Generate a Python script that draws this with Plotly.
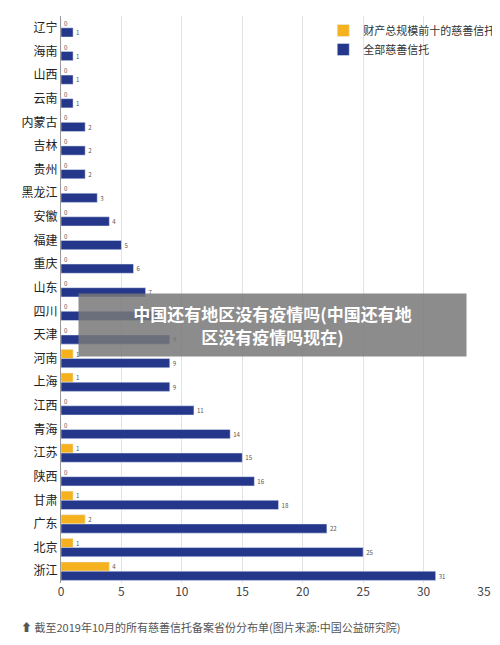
import plotly.graph_objects as go

provinces = ["辽宁", "海南", "山西", "云南", "内蒙古", "吉林", "贵州", "黑龙江", "安徽", "福建", "重庆",
             "山东", "四川", "天津", "河南", "上海", "江西", "青海", "江苏", "陕西", "甘肃", "广东", "北京", "浙江"]
top10 = [0, 0, 0, 0, 0, 0, 0, 0, 0, 0, 0, 0, 0, 0, 1, 1, 0, 0, 1, 0, 1, 2, 1, 4]
all_trusts = [1, 1, 1, 1, 2, 2, 2, 3, 4, 5, 6, 7, 8, 9, 9, 9, 11, 14, 15, 16, 18, 22, 25, 31]

FONT = "Noto Sans CJK SC"

fig = go.Figure()
fig.add_trace(go.Bar(y=provinces, x=top10, orientation="h", name="财产总规模前十的慈善信托",
                     marker_color="#f5b21e", text=top10, textposition="outside",
                     textfont=dict(size=10, color="#555"), cliponaxis=False))
fig.add_trace(go.Bar(y=provinces, x=all_trusts, orientation="h", name="全部慈善信托",
                     marker_color="#24378a", text=all_trusts, textposition="outside",
                     textfont=dict(size=10, color="#555"), cliponaxis=False))

fig.update_layout(
    width=500, height=645,
    margin=dict(l=53, r=14, t=8, b=70),
    plot_bgcolor="white", paper_bgcolor="white",
    font=dict(family=FONT, size=12, color="#333"),
    barmode="group", bargap=0.22, bargroupgap=0,
    legend=dict(x=0.62, y=1.0, xanchor="left", yanchor="top", font=dict(size=11),
                bgcolor="rgba(255,255,255,0)", itemwidth=30, tracegroupgap=2),
    xaxis=dict(range=[0, 35], dtick=5, showgrid=True, gridcolor="#e3e3e3",
               zeroline=False, showline=False, tickfont=dict(size=12, color="#444")),
    yaxis=dict(autorange="reversed", showline=True, linecolor="#999",
               tickfont=dict(size=12, color="#222"), ticks=""),
    annotations=[
        dict(text="⬆ 截至2019年10月的所有慈善信托备案省份分布单(图片来源:中国公益研究院)",
             xref="paper", yref="paper", x=-0.1, y=-0.06, xanchor="left", yanchor="top",
             showarrow=False, font=dict(size=11, color="#555")),
        dict(text="<b>中国还有地区没有疫情吗(中国还有地<br>区没有疫情吗现在)</b>",
             xref="paper", yref="paper", x=0.50, y=0.455, xanchor="center", yanchor="middle",
             showarrow=False, bgcolor="rgba(120,120,120,0.85)", width=385, height=60,
             font=dict(size=17, color="white"), align="center"),
    ],
)

fig.write_html("out.html")
